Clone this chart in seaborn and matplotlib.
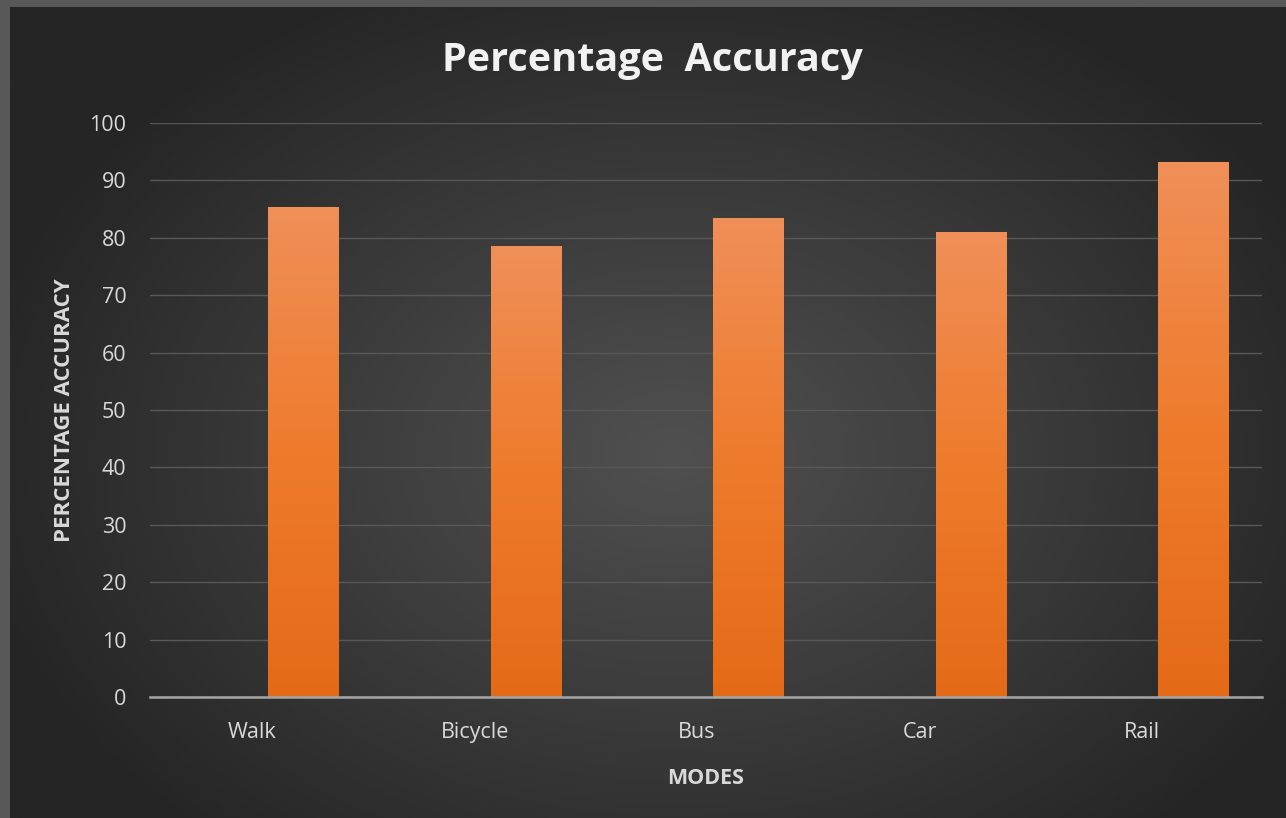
import numpy as np
import pandas as pd
import matplotlib
matplotlib.use("Agg")
import matplotlib.pyplot as plt
import seaborn as sns
from matplotlib.colors import LinearSegmentedColormap

# ---- data ----
modes = ["Walk", "Bicycle", "Bus", "Car", "Rail"]
accuracy = [85.3, 78.5, 83.5, 81.0, 93.2]
yticks = [0, 10, 20, 30, 40, 50, 60, 70, 80, 90, 100]

df = pd.DataFrame({"Mode": modes, "Accuracy": accuracy})

sns.set_style("dark")
plt.rcParams["font.family"] = ["Open Sans", "DejaVu Sans"]

W, H = 1286, 818
fig = plt.figure(figsize=(W / 100, H / 100), dpi=100)
fig.patch.set_facecolor("#585858")

# background radial gradient panel
bg = fig.add_axes([10 / W, 0, 1 - 10 / W, 1 - 7 / H])
bg.set_axis_off()
yy, xx = np.mgrid[0:1:400j, 0:1:640j]
r = np.sqrt(((xx - 0.52) / 0.75) ** 2 + ((yy - 0.55) / 0.85) ** 2)
r = np.clip(r / 0.75, 0, 1)
bg_cmap = LinearSegmentedColormap.from_list("bg", ["#505050", "#3b3b3b", "#252525"])
bg.imshow(r, cmap=bg_cmap, aspect="auto", extent=[0, 1, 0, 1], vmin=0, vmax=1)

ax = fig.add_axes([150 / W, 1 - 697 / H, (1262 - 150) / W, (697 - 123) / H])
ax.set_facecolor("none")

sns.barplot(data=df, x="Mode", y="Accuracy", color="#ed7d31", width=0.315,
            ax=ax, zorder=3, saturation=1)

bar_cmap = LinearSegmentedColormap.from_list("bar", ["#e56a17", "#ee7b2c", "#f08f58"])
grad = np.linspace(0, 1, 256).reshape(-1, 1)
for p in ax.patches:
    p.set_x(p.get_x() + 0.19)
    p.set_edgecolor("#7a3a10")
    p.set_linewidth(0.8)
    x0, w, h = p.get_x(), p.get_width(), p.get_height()
    im = ax.imshow(grad, cmap=bar_cmap, aspect="auto", origin="lower",
                   extent=[x0, x0 + w, 0, h], zorder=3.5)
    im.set_clip_path(p)

ax.set_xlim(-0.5, len(modes) - 0.5)
ax.set_ylim(0, 100)
ax.set_xticks([i - 0.04 for i in range(len(modes))])
ax.set_xticklabels(modes)
ax.set_yticks(yticks)
ax.set_yticklabels([str(t) for t in yticks])
ax.grid(axis="y", color="#585858", linewidth=1.0, zorder=0)
ax.grid(axis="x", visible=False)
for s in ["top", "right", "left"]:
    ax.spines[s].set_visible(False)
ax.spines["bottom"].set_color("#a6a6a6")
ax.spines["bottom"].set_linewidth(1.8)
ax.spines["bottom"].set_zorder(4)
ax.tick_params(axis="both", length=0, colors="#d9d9d9", labelsize=15.5)
ax.tick_params(axis="y", pad=17)
ax.tick_params(axis="x", pad=18)

ax.set_xlabel("MODES", color="#d9d9d9", fontsize=15.5, fontweight="bold", labelpad=18)
ax.set_ylabel("PERCENTAGE ACCURACY", color="#d9d9d9", fontsize=16,
              fontweight="bold", labelpad=10)
fig.text(652 / W, 1 - 61 / H, "Percentage  Accuracy", ha="center", va="center",
         color="#f2f2f2", fontsize=28.5, fontweight="bold")

fig.savefig("out.png", dpi=100, facecolor=fig.get_facecolor())
